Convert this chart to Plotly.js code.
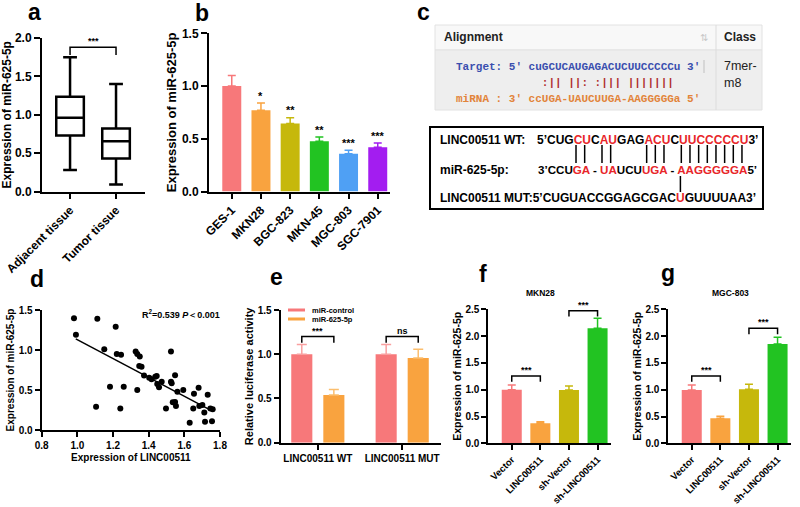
<!DOCTYPE html>
<html>
<head>
<meta charset="utf-8">
<script src="https://cdn.plot.ly/plotly-3.0.1.min.js"></script>
<style>html,body{margin:0;padding:0;background:#fff;}#chart{width:800px;height:507px;}</style>
</head>
<body>
<div id="chart"></div>
<script>
// ---------- DATA ----------
// a: box plot
const boxGroups = ['Adjacent tissue', 'Tumor tissue'];
const boxMin = [0.28, 0.09];
const boxQ1 = [0.73, 0.43];
const boxMed = [0.96, 0.655];
const boxQ3 = [1.235, 0.82];
const boxMax = [1.75, 1.40];

// b: cell lines
const cellLines = ['GES-1', 'MKN28', 'BGC-823', 'MKN-45', 'MGC-803', 'SGC-7901'];
const cellExpr = [1.0, 0.77, 0.644, 0.476, 0.358, 0.42];
const cellErr = [0.10, 0.07, 0.056, 0.041, 0.032, 0.04];
const cellSig = ['', '*', '**', '**', '***', '***'];

// d: scatter
const lincX = [0.981,0.992,1.112,1.151,1.215,1.221,1.245,1.183,1.26,1.105,1.241,1.327,1.336,1.35,1.347,1.36,1.336,1.374,1.403,1.416,1.437,1.445,1.448,1.458,1.473,1.525,1.525,1.529,1.548,1.561,1.594,1.497,1.535,1.548,1.553,1.654,1.68,1.65,1.684,1.701,1.731,1.746,1.759,1.712,1.63,1.716,1.755];
const mirY = [1.396,1.19,1.39,1.01,1.29,0.95,0.94,0.54,0.54,0.29,0.27,0.98,0.95,0.92,0.80,0.79,0.50,0.68,0.654,0.633,0.667,0.675,0.575,0.533,0.604,0.98,0.604,0.583,0.683,0.479,0.50,0.27,0.346,0.35,0.30,0.454,0.529,0.27,0.30,0.312,0.44,0.27,0.26,0.22,0.09,0.104,0.11];

// e: luciferase
const lucGroups = ['LINC00511 WT', 'LINC00511 MUT'];
const lucSeries = ['miR-control', 'miR-625-5p'];
const lucControl = [1.0, 1.0];
const lucControlErr = [0.11, 0.11];
const luc625 = [0.54, 0.957];
const luc625Err = [0.06, 0.10];
const lucSig = ['***', 'ns'];

// f, g
const vecCats = ['Vector', 'LINC00511', 'sh-Vector', 'sh-LINC00511'];
const mkn28Expr = [1.0, 0.373, 0.995, 2.146];
const mkn28Err = [0.09, 0.03, 0.075, 0.185];
const mgc803Expr = [0.995, 0.466, 1.01, 1.853];
const mgc803Err = [0.095, 0.04, 0.09, 0.125];

// ---------- STYLE ----------
const FONT = "Arial, 'Liberation Sans', Helvetica, sans-serif";
const MONO = "'Liberation Mono', 'Courier New', 'DejaVu Sans Mono', monospace";
const C_SALMON = '#F7787A', C_ORANGE = '#F9A33F', C_OLIVE = '#C6B80C', C_GREEN = '#22C322', C_BLUE = '#4FA0F4', C_PURPLE = '#A31DF0';
const cellColors = [C_SALMON, C_ORANGE, C_OLIVE, C_GREEN, C_BLUE, C_PURPLE];
const vecColors = [C_SALMON, C_ORANGE, C_OLIVE, C_GREEN];
const RED = '#E8262A';

const W = 800, H = 507;
const X = p => p / W;
const Y = p => 1 - p / H;
const B = s => '<b>' + s + '</b>';

function tf(size) { return { size: size, family: FONT, color: '#000', weight: 700 }; }
function axisBase(extra) {
  return Object.assign({
    showline: true, linecolor: '#000', linewidth: 2,
    ticks: 'outside', ticklen: 5, tickwidth: 2, tickcolor: '#000',
    showgrid: false, zeroline: false, fixedrange: true, automargin: false,
    tickfont: tf(11)
  }, extra);
}
function numTicks(lo, hi, step) {
  const v = [];
  for (let t = lo; t <= hi + 1e-9; t += step) v.push(+t.toFixed(3));
  return { tickmode: 'array', tickvals: v, ticktext: v.map(t => B(t.toFixed(1))) };
}
function catTicks(cats) {
  return { tickmode: 'array', tickvals: cats.map((c, i) => i), ticktext: cats.map(B) };
}

const traces = [];
const shapes = [];
const ann = [];

function txt(px, py, text, size, o) {
  o = o || {};
  ann.push({
    xref: 'paper', yref: 'paper', x: X(px), y: Y(py), text: text, showarrow: false,
    xanchor: o.xanchor || 'center', yanchor: o.yanchor || 'middle',
    font: { size: size, family: o.family || FONT, color: o.color || '#000', weight: o.weight === undefined ? 700 : o.weight }
  });
}
// significance bracket; label sits just above the bracket's top bar
function bracket(xr, yr, x1, x2, yTop, yDown, label, size) {
  shapes.push({ type: 'path', xref: xr, yref: yr,
    path: `M ${x1},${yDown} L ${x1},${yTop} L ${x2},${yTop} L ${x2},${yDown}`,
    line: { color: '#000', width: 1.5 } });
  ann.push({ xref: xr, yref: yr, x: (x1 + x2) / 2, y: yTop, text: B(label), showarrow: false,
    font: tf(size || 9), yanchor: 'bottom', yshift: -1 });
}

// ---------- a ----------
boxGroups.forEach((g, i) => {
  traces.push({ type: 'box', xaxis: 'x', yaxis: 'y', x: [i],
    q1: [boxQ1[i]], median: [boxMed[i]], q3: [boxQ3[i]],
    lowerfence: [boxMin[i]], upperfence: [boxMax[i]],
    width: 0.6, whiskerwidth: 0.5, boxpoints: false,
    fillcolor: '#fff', line: { color: '#000', width: 2.5 },
    showlegend: false, hoverinfo: 'skip' });
});
bracket('x', 'y', 0, 1, 1.878, 1.78, '***', 9);

// ---------- b ----------
cellLines.forEach((c, i) => {
  traces.push({ type: 'bar', xaxis: 'x2', yaxis: 'y2', x: [i], y: [cellExpr[i]], width: 0.65,
    marker: { color: cellColors[i], line: { width: 0 } },
    error_y: { type: 'data', array: [cellErr[i]], arrayminus: [0], symmetric: false,
      color: cellColors[i], thickness: 1.5, width: 4 },
    showlegend: false, hoverinfo: 'skip' });
  if (cellSig[i]) ann.push({ xref: 'x2', yref: 'y2', x: i, y: cellExpr[i] + cellErr[i] + 0.07,
    text: B(cellSig[i]), showarrow: false, font: tf(11), yanchor: 'middle' });
});

// ---------- d ----------
traces.push({ type: 'scatter', mode: 'markers', xaxis: 'x3', yaxis: 'y3', x: lincX, y: mirY,
  marker: { color: '#000', size: 6 }, showlegend: false, hoverinfo: 'skip' });
(function () {
  const n = lincX.length;
  const mx = lincX.reduce((a, b) => a + b, 0) / n, my = mirY.reduce((a, b) => a + b, 0) / n;
  let sxy = 0, sxx = 0;
  for (let i = 0; i < n; i++) { sxy += (lincX[i] - mx) * (mirY[i] - my); sxx += (lincX[i] - mx) ** 2; }
  const slope = sxy / sxx, icpt = my - slope * mx;
  const x0 = Math.min(...lincX) + 0.01, x1 = Math.max(...lincX) - 0.02;
  traces.push({ type: 'scatter', mode: 'lines', xaxis: 'x3', yaxis: 'y3',
    x: [x0, x1], y: [icpt + slope * x0, icpt + slope * x1],
    line: { color: '#000', width: 1.5 }, showlegend: false, hoverinfo: 'skip' });
})();

// ---------- e ----------
const lucOff = 0.19;
traces.push({ type: 'bar', xaxis: 'x4', yaxis: 'y4', name: lucSeries[0],
  x: lucGroups.map((g, i) => i - lucOff), y: lucControl, width: 0.25,
  marker: { color: C_SALMON },
  error_y: { type: 'data', array: lucControlErr, arrayminus: [0, 0], symmetric: false, color: '#F9A0A0', thickness: 1.5, width: 5 },
  showlegend: false, hoverinfo: 'skip' });
traces.push({ type: 'bar', xaxis: 'x4', yaxis: 'y4', name: lucSeries[1],
  x: lucGroups.map((g, i) => i + lucOff), y: luc625, width: 0.25,
  marker: { color: C_ORANGE },
  error_y: { type: 'data', array: luc625Err, arrayminus: [0, 0], symmetric: false, color: '#FBBE6E', thickness: 1.5, width: 5 },
  showlegend: false, hoverinfo: 'skip' });
lucGroups.forEach((g, i) => bracket('x4', 'y4', i - lucOff, i + lucOff, 1.2, 1.13, lucSig[i], 9));
// legend (manual)
shapes.push({ type: 'rect', xref: 'paper', yref: 'paper', x0: X(288), x1: X(305), y0: Y(311.5), y1: Y(308.5), fillcolor: C_SALMON, line: { width: 0 } });
shapes.push({ type: 'rect', xref: 'paper', yref: 'paper', x0: X(288), x1: X(305), y0: Y(320.5), y1: Y(317.5), fillcolor: C_ORANGE, line: { width: 0 } });
txt(310, 310, B(lucSeries[0]), 7.5, { xanchor: 'left' });
txt(310, 319, B(lucSeries[1]), 7.5, { xanchor: 'left' });

// ---------- f, g ----------
function vecPanel(xa, ya, vals, errs, b2top) {
  vecCats.forEach((c, i) => {
    traces.push({ type: 'bar', xaxis: xa, yaxis: ya, x: [i], y: [vals[i]], width: 0.7,
      marker: { color: vecColors[i] },
      error_y: { type: 'data', array: [errs[i]], arrayminus: [0], symmetric: false, color: vecColors[i], thickness: 1.5, width: 4 },
      showlegend: false, hoverinfo: 'skip' });
  });
  bracket(xa, ya, 0, 1, 1.256, 1.15, '***', 9);
  bracket(xa, ya, 2, 3, b2top, b2top - 0.11, '***', 9);
}
vecPanel('x5', 'y5', mkn28Expr, mkn28Err, 2.475);
vecPanel('x6', 'y6', mgc803Expr, mgc803Err, 2.146);
txt(540, 293, B('MKN28'), 8.5);
txt(730, 293, B('MGC-803'), 8.5);

// ---------- panel letters ----------
[['a', 34, 12], ['b', 202, 13], ['c', 423, 12], ['d', 37, 279], ['e', 276, 277], ['f', 483, 274], ['g', 668, 273]]
  .forEach(l => txt(l[1], l[2], B(l[0]), 23));

// R2 annotation
txt(180.5, 314, B('R<sup>2</sup>=0.539 <i>P</i>\uFF1C0.001'), 9);

// ---------- c: alignment table ----------
shapes.push({ type: 'rect', xref: 'paper', yref: 'paper', x0: X(435), x1: X(762), y0: Y(50), y1: Y(25), fillcolor: '#f8f8f8', line: { color: '#e2e2e2', width: 1 }, layer: 'below' });
shapes.push({ type: 'rect', xref: 'paper', yref: 'paper', x0: X(435), x1: X(762), y0: Y(110), y1: Y(50), fillcolor: '#eeeeee', line: { color: '#e2e2e2', width: 1 }, layer: 'below' });
shapes.push({ type: 'line', xref: 'paper', yref: 'paper', x0: X(716), x1: X(716), y0: Y(110), y1: Y(25), line: { color: '#dcdcdc', width: 1 } });
shapes.push({ type: 'line', xref: 'paper', yref: 'paper', x0: X(704), x1: X(704), y0: Y(73), y1: Y(60), line: { color: '#cfcfcf', width: 1.5 } });
txt(442, 37, B('Alignment'), 12, { xanchor: 'left', color: '#222' });
txt(722, 37, B('Class'), 12, { xanchor: 'left', color: '#222' });
txt(704, 37, '\u21C5', 10, { color: '#c8c8c8', weight: 400 });
const nb = s => s.replace(/ /g, '\u00a0');
txt(454, 67, B(nb("Target: 5' cuGCUCAUGAGACUCUUCCCCCu 3'")), 11, { xanchor: 'left', family: MONO, color: '#3A4FAE' });
txt(454, 83, B(nb("             :|| ||: :||| |||||||")), 11, { xanchor: 'left', family: MONO, color: '#B0302E' });
txt(454, 99, B(nb("miRNA : 3' ccUGA-UAUCUUGA-AAGGGGGa 5'")), 11, { xanchor: 'left', family: MONO, color: '#E2843A' });
txt(722, 66, '7mer-', 12.5, { xanchor: 'left', weight: 400, color: '#222' });
txt(722, 83, 'm8', 12.5, { xanchor: 'left', weight: 400, color: '#222' });

// ---------- c: binding box ----------
shapes.push({ type: 'rect', xref: 'paper', yref: 'paper', x0: X(430), x1: X(763), y0: Y(209), y1: Y(127), line: { color: '#000', width: 2 } });
const r = s => `<span style="color:${RED}">${s}</span>`;
const wtParts = [['CUG', 0], ['CU', 1], ['C', 0], ['AU', 1], ['GAG', 0], ['ACU', 1], ['C', 0], ['UUCCCCCU', 1]];
txt(438, 140, B('LINC00511 WT:'), 12, { xanchor: 'left' });
txt(535, 140, B("5\u2019" + wtParts.map(p => p[1] ? r(p[0]) : p[0]).join('') + "3\u2019"), 12, { xanchor: 'left' });
txt(438, 170, B('miR-625-5p:'), 12, { xanchor: 'left' });
txt(536, 170, B("3\u2019CCU" + r('GA') + ' - ' + r('UA') + 'UCU' + r('UGA') + ' - ' + r('AAGGGGGA') + "5\u2019"), 11.6, { xanchor: 'left' });
txt(438, 198, B("LINC00511 MUT:5\u2019CUGUACCGGAGCGAC" + r('U') + "GUUUUAA3\u2019"), 12, { xanchor: 'left' });
// pairing lines under the red letters (Arial Bold advance widths at 12px)
(function () {
  const adv = { C: 0.722, U: 0.722, G: 0.778, A: 0.722 };
  let xpos = 535 + (0.556 + 0.278) * 12;
  wtParts.forEach(p => {
    for (const ch of p[0]) {
      const w = adv[ch] * 12;
      if (p[1]) shapes.push({ type: 'line', xref: 'paper', yref: 'paper', x0: X(xpos + w / 2), x1: X(xpos + w / 2), y0: Y(163), y1: Y(145), line: { color: '#000', width: 1.5 } });
      xpos += w;
    }
  });
  shapes.push({ type: 'line', xref: 'paper', yref: 'paper', x0: X(680.4), x1: X(680.4), y0: Y(192), y1: Y(176), line: { color: '#000', width: 1.5 } });
})();

// ---------- LAYOUT ----------
const layout = {
  width: W, height: H, margin: { l: 0, r: 0, t: 0, b: 0 },
  paper_bgcolor: '#fff', plot_bgcolor: 'rgba(0,0,0,0)',
  font: { family: FONT, color: '#000', weight: 700 },
  showlegend: false, barmode: 'overlay',
  // a
  xaxis: axisBase(Object.assign({ domain: [X(42), X(145)], range: [-0.61, 1.63], anchor: 'y', tickangle: -45, tickfont: tf(12) }, catTicks(boxGroups))),
  yaxis: axisBase(Object.assign({ domain: [Y(191.5), Y(38)], range: [0, 2], anchor: 'x', tickfont: tf(12), ticklen: 6,
    title: { text: B('Expression of miR-625-5p'), font: tf(12), standoff: 2 } }, numTicks(0, 2, 0.5))),
  // b
  xaxis2: axisBase(Object.assign({ domain: [X(209), X(390)], range: [-0.78, 5.42], anchor: 'y2', tickangle: -45, tickfont: tf(12) }, catTicks(cellLines))),
  yaxis2: axisBase(Object.assign({ domain: [Y(191.5), Y(33.3)], range: [0, 1.5], anchor: 'x2', tickfont: tf(12), ticklen: 6,
    title: { text: B('Expression of miR-625-5p'), font: tf(13), standoff: 2 } }, numTicks(0, 1.5, 0.5))),
  // d
  xaxis3: axisBase(Object.assign({ domain: [X(41.7), X(220)], range: [0.8, 1.8], anchor: 'y3', tickfont: tf(10),
    title: { text: B('Expression of LINC00511'), font: tf(10), standoff: 4 } }, numTicks(0.8, 1.8, 0.2))),
  yaxis3: axisBase(Object.assign({ domain: [Y(430), Y(310)], range: [0, 1.5], anchor: 'x3', tickfont: tf(10),
    title: { text: B('Expression of miR-625-5p'), font: tf(10), standoff: 2 } }, numTicks(0, 1.5, 0.5))),
  // e
  xaxis4: axisBase(Object.assign({ domain: [X(280.7), X(441)], range: [-0.44, 1.46], anchor: 'y4', tickfont: tf(10) }, catTicks(lucGroups))),
  yaxis4: axisBase(Object.assign({ domain: [Y(442.7), Y(310)], range: [0, 1.5], anchor: 'x4', tickfont: tf(10),
    title: { text: B('Relative luciferase activity'), font: tf(11), standoff: 2 } }, numTicks(0, 1.5, 0.5))),
  // f
  xaxis5: axisBase(Object.assign({ domain: [X(488.3), X(611)], range: [-0.82, 3.47], anchor: 'y5', tickangle: -45, tickfont: tf(9.5) }, catTicks(vecCats))),
  yaxis5: axisBase(Object.assign({ domain: [Y(443.3), Y(309.3)], range: [0, 2.5], anchor: 'x5', tickfont: tf(10),
    title: { text: B('Expression of miR-625-5p'), font: tf(10.5), standoff: 2 } }, numTicks(0, 2.5, 0.5))),
  // g
  xaxis6: axisBase(Object.assign({ domain: [X(668.3), X(791)], range: [-0.82, 3.47], anchor: 'y6', tickangle: -45, tickfont: tf(9.5) }, catTicks(vecCats))),
  yaxis6: axisBase(Object.assign({ domain: [Y(443.3), Y(309.3)], range: [0, 2.5], anchor: 'x6', tickfont: tf(10),
    title: { text: B('Expression of miR-625-5p'), font: tf(10.5), standoff: 2 } }, numTicks(0, 2.5, 0.5))),
  shapes: shapes,
  annotations: ann
};

Plotly.newPlot('chart', traces, layout, { staticPlot: true, displayModeBar: false });
</script>
</body>
</html>
